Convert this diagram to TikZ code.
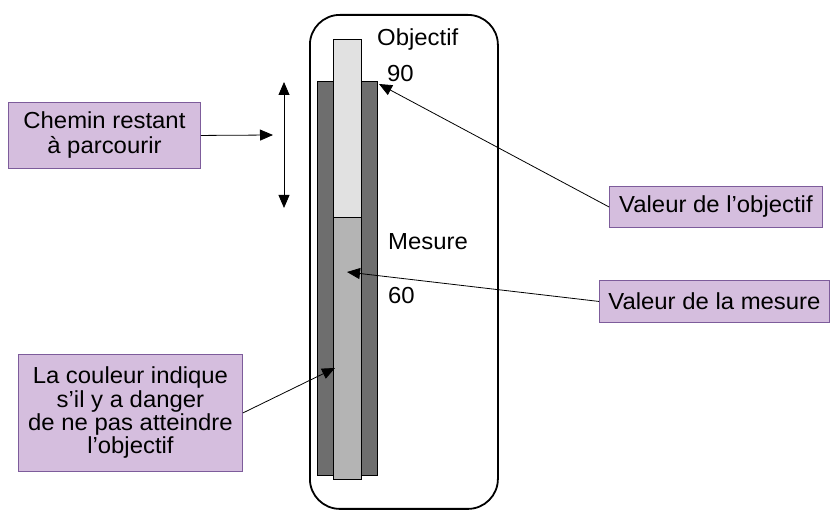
\documentclass[tikz,border=0pt]{standalone}
\usepackage{fontspec}
\setmainfont{Liberation Sans}[FakeStretch=1.03]
\usetikzlibrary{arrows.meta}

\definecolor{boxfill}{RGB}{213,190,222}
\definecolor{boxborder}{RGB}{125,92,155}
\definecolor{gaugedark}{RGB}{110,110,110}
\definecolor{targetfill}{RGB}{225,225,225}
\definecolor{measurefill}{RGB}{180,180,180}

\newcommand{\lblfont}{\fontsize{23.2}{25}\selectfont}

\tikzset{
  note/.style={draw=boxborder, fill=boxfill, line width=0.9pt, inner sep=0pt,
    align=center, font=\lblfont, anchor=north west},
  bar/.style={draw=black, line width=0.8pt, inner sep=0pt, anchor=north west},
  plain/.style={inner sep=0pt, font=\lblfont, anchor=base west},
  pointer/.style={line width=0.8pt, -{Triangle[length=13pt,width=11pt]}},
}

\begin{document}
\begin{tikzpicture}[x=1pt, y=-1pt]
  \useasboundingbox (0,0) rectangle (831,510);

  % gauge frame
  \node[draw=black, line width=1.8pt, rounded corners=30pt, inner sep=0pt,
        minimum width=188pt, minimum height=494pt, anchor=north west] (frame) at (309,14) {};

  % outer dark bar and the inner bar (target part on top, measure part below)
  \node[bar, fill=gaugedark, minimum width=60pt, minimum height=394pt] (outer) at (317,81) {};
  \node[bar, fill=targetfill, minimum width=28pt, minimum height=178pt] (target) at (333,39) {};
  \node[bar, fill=measurefill, minimum width=28pt, minimum height=262pt] (measure) at (333,217) {};

  % texts beside the gauge
  \node[plain] (tObj) at (377,46) {Objectif};
  \node[plain] (t90)  at (387,82) {90};
  \node[plain] (tMes) at (388,250) {Mesure};
  \node[plain] (t60)  at (388,304) {60};

  % callout boxes
  \node[note, minimum width=192pt, minimum height=66pt] (chemin) at (8,102)
    {Chemin restant\\à parcourir};
  \node[note, minimum width=213pt, minimum height=41pt] (vobj) at (609,186)
    {Valeur de l’objectif};
  \node[note, minimum width=230pt, minimum height=42pt] (vmes) at (599,280)
    {Valeur de la mesure};
  \node[note, minimum width=224pt, minimum height=117pt, font=\fontsize{23.2}{23.3}\selectfont]
    (couleur) at (18,354)
    {La couleur indique\\s’il y a danger\\de ne pas atteindre\\l’objectif};

  % arrow targets
  \coordinate (remTop) at (284,82);
  \coordinate (remBot) at (284,208);
  \coordinate (remMid) at (273,135);
  \coordinate (objTip) at (379,84);
  \coordinate (mesTip) at (347,272);
  \coordinate (colTip) at (335,368);

  % connectors
  \draw[line width=0.8pt, {Triangle[length=13pt,width=11pt]}-{Triangle[length=13pt,width=11pt]}]
    (remTop) -- (remBot);
  \draw[pointer] (chemin.east) -- (remMid);
  \draw[pointer] (vobj.west) -- (objTip);
  \draw[pointer] (vmes.west) -- (mesTip);
  \draw[pointer] (couleur.east) -- (colTip);
\end{tikzpicture}
\end{document}
